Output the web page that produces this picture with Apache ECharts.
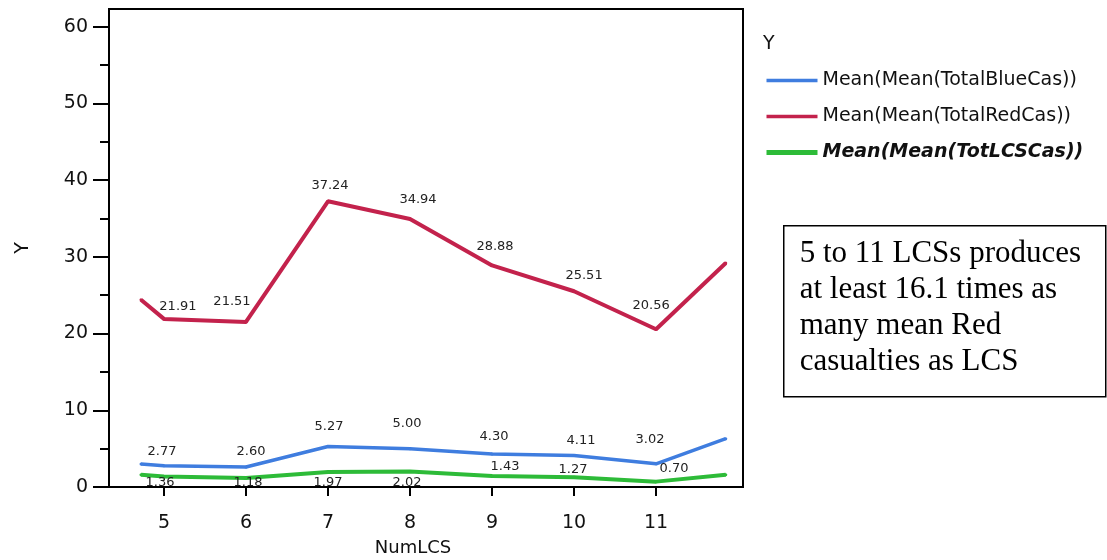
<!DOCTYPE html>
<html>
<head>
<meta charset="utf-8">
<script src="https://cdn.jsdelivr.net/npm/echarts@6/dist/echarts.min.js"></script>
<style>
html,body{margin:0;padding:0;background:#fff;}
#chart{width:1107px;height:560px;}
</style>
</head>
<body>
<div id="chart"></div>
<script>
// ---- data ----
const numLCS = [4.72, 5, 6, 7, 8, 9, 10, 11, 11.85];
const blueCas = [3.0, 2.77, 2.60, 5.27, 5.00, 4.30, 4.11, 3.02, 6.3];
const redCas = [24.4, 21.91, 21.51, 37.24, 34.94, 28.88, 25.51, 20.56, 29.2];
const lcsCas = [1.6, 1.36, 1.18, 1.97, 2.02, 1.43, 1.27, 0.70, 1.6];
const labelled = [false, true, true, true, true, true, true, true, false];
const xTickValues = [5, 6, 7, 8, 9, 10, 11];
const yMajorTicks = [0, 10, 20, 30, 40, 50, 60];
const yMinorTicks = [5, 15, 25, 35, 45, 55];
const seriesNames = ['Mean(Mean(TotalBlueCas))', 'Mean(Mean(TotalRedCas))', 'Mean(Mean(TotLCSCas))'];
const noteText = '5 to 11 LCSs produces\nat least 16.1 times as\nmany mean Red\ncasualties as LCS';

// ---- layout (label nudges, px) ----
const redNudge = [null, [14,-12], [-14,-20], [2,-16], [8,-19], [3,-19], [10,-16], [-5,-24], null];
const blueNudge = [null, [-2,-14], [5,-15], [1,-20], [-3,-25], [2,-17], [7,-15], [-6,-24], null];
const lcsNudge = [null, [-4,6], [2,5], [0,11], [-3,11], [13,-9], [-1,-8], [18,-13], null];

const FONT = '"DejaVu Sans", sans-serif';

function build(values, nudges) {
  return values.map((v, i) => ({
    value: [numLCS[i], v],
    label: labelled[i] ? { show: true, offset: nudges[i] } : { show: false }
  }));
}

function lineSeries(name, values, nudges, color, width) {
  return {
    name: name,
    type: 'line',
    data: build(values, nudges),
    symbol: 'circle',
    symbolSize: 3,
    showSymbol: true,
    itemStyle: { color: color },
    lineStyle: { color: color, width: width },
    label: {
      show: true,
      position: 'inside',
      formatter: p => p.value[1].toFixed(2),
      fontFamily: FONT,
      fontSize: 13,
      color: '#222'
    },
    emphasis: { disabled: true },
    z: 3
  };
}

const chart = echarts.init(document.getElementById('chart'), null, { renderer: 'canvas' });
chart.setOption({
  animation: false,
  backgroundColor: '#fff',
  title: {
    text: 'Y',
    left: 758,
    top: 30,
    textStyle: { fontFamily: FONT, fontSize: 19, fontWeight: 'normal', color: '#111' }
  },
  legend: {
    orient: 'vertical',
    left: 759,
    top: 66,
    itemWidth: 51,
    itemHeight: 4,
    itemGap: 17,
    textStyle: { fontFamily: FONT, fontSize: 19, color: '#111' },
    data: [
      { name: seriesNames[0], lineStyle: { width: 3.5 } },
      { name: seriesNames[1], lineStyle: { width: 3.5 } },
      { name: seriesNames[2], lineStyle: { width: 5 }, textStyle: { fontWeight: 'bold', fontStyle: 'italic', color: '#111' } }
    ]
  },
  grid: {
    left: 109, top: 9, right: 364, bottom: 73,
    outerBoundsMode: 'none',
    containLabel: false,
    show: true, borderColor: '#000', borderWidth: 2, backgroundColor: '#fff'
  },
  xAxis: {
    type: 'value',
    min: 4.33,
    max: 12.06,
    name: 'NumLCS',
    nameLocation: 'middle',
    nameGap: 52,
    nameTextStyle: { fontFamily: FONT, fontSize: 18, color: '#111', padding: [0, 26, 0, 0] },
    axisLine: { show: true, lineStyle: { color: '#000', width: 2 } },
    axisTick: { show: true, customValues: xTickValues, length: 9, lineStyle: { color: '#000', width: 2 } },
    axisLabel: { customValues: xTickValues, fontFamily: FONT, fontSize: 19, color: '#111', margin: 27 },
    splitLine: { show: false }
  },
  yAxis: [
    {
      type: 'value',
      min: 0,
      max: 62.3,
      name: 'Y',
      nameLocation: 'middle',
      nameGap: 76,
      nameTextStyle: { fontFamily: FONT, fontSize: 19, color: '#111' },
      axisLine: { show: true, lineStyle: { color: '#000', width: 2 } },
      axisTick: { show: true, customValues: yMajorTicks, length: 16, lineStyle: { color: '#000', width: 2 } },
      axisLabel: { customValues: yMajorTicks, fontFamily: FONT, fontSize: 19, color: '#111', margin: 21 },
      splitLine: { show: false }
    },
    {
      type: 'value',
      min: 0,
      max: 62.3,
      position: 'left',
      axisLine: { show: false },
      axisTick: { show: true, customValues: yMinorTicks, length: 9, lineStyle: { color: '#000', width: 2 } },
      axisLabel: { show: false },
      splitLine: { show: false }
    }
  ],
  series: [
    lineSeries(seriesNames[1], redCas, redNudge, '#c3224c', 4),
    lineSeries(seriesNames[0], blueCas, blueNudge, '#3f7ddf', 3.5),
    lineSeries(seriesNames[2], lcsCas, lcsNudge, '#2dbb38', 4)
  ],
  graphic: [
    {
      type: 'group',
      left: 783,
      top: 225,
      children: [
        {
          type: 'rect',
          shape: { x: 0, y: 0, width: 322, height: 171 },
          style: { fill: '#fff', stroke: '#000', lineWidth: 1.5 }
        },
        {
          type: 'text',
          x: 16,
          y: 10,
          style: {
            text: noteText,
            font: '31px "Liberation Serif", "Times New Roman", serif',
            lineHeight: 36,
            fill: '#000'
          }
        }
      ]
    }
  ]
});
</script>
</body>
</html>
